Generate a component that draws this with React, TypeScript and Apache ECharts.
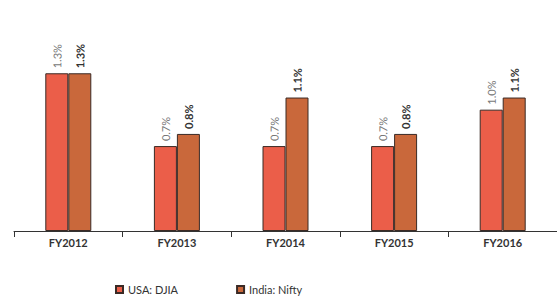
import React, { useEffect, useRef } from "react";
import * as echarts from "echarts";

const categories = ["FY2012", "FY2013", "FY2014", "FY2015", "FY2016"];
const usaDjia = [1.3, 0.7, 0.7, 0.7, 1.0];
const indiaNifty = [1.3, 0.8, 1.1, 0.8, 1.1];
const seriesNames = ["USA: DJIA", "India: Nifty"];

export default function App() {
  const ref = useRef<HTMLDivElement>(null);
  useEffect(() => {
    const chart = echarts.init(ref.current!, null, { renderer: "svg" });
    const font = "Lato, 'Open Sans', sans-serif";
    const labelFor = (color: string, weight: string) => ({
      show: true,
      position: "top" as const,
      rotate: 89.5,
      align: "left" as const,
      verticalAlign: "middle" as const,
      distance: 5,
      color,
      fontWeight: weight as any,
      fontSize: 11,
      fontFamily: font,
      formatter: (p: any) => p.value.toFixed(1) + "%",
    });
    chart.setOption({
      animation: false,
      backgroundColor: "#ffffff",
      grid: { left: 14, top: 49, width: 550, height: 182 },
      legend: {
        data: seriesNames,
        left: 110,
        top: 279,
        itemWidth: 7,
        itemHeight: 7,
        itemGap: 58,
        textStyle: { fontSize: 11, color: "#333", fontFamily: font },
        icon: "rect",
      },
      xAxis: {
        type: "category",
        data: categories,
        axisLine: { lineStyle: { color: "#333", width: 1 } },
        axisTick: { show: true, length: 6, lineStyle: { color: "#333" } },
        axisLabel: { color: "#333", fontSize: 11, fontWeight: "bold", fontFamily: font, margin: 6 },
      },
      yAxis: {
        type: "value",
        min: 0,
        max: 1.5,
        show: false,
        splitLine: { show: false },
      },
      series: [
        {
          name: seriesNames[0],
          type: "bar",
          data: usaDjia,
          barWidth: 23,
          barGap: "0%",
          itemStyle: { color: "#EB5E49", borderColor: "#3a2a25", borderWidth: 1 },
          label: labelFor("#777", "normal"),
        },
        {
          name: seriesNames[1],
          type: "bar",
          data: indiaNifty,
          barWidth: 23,
          barGap: "0%",
          itemStyle: { color: "#C9683B", borderColor: "#3a2a25", borderWidth: 1 },
          label: labelFor("#333", "bold"),
        },
      ],
    });
    return () => chart.dispose();
  }, []);
  return <div ref={ref} style={{ width: 557, height: 297, position: "absolute", left: 0, top: 0 }} />;
}
